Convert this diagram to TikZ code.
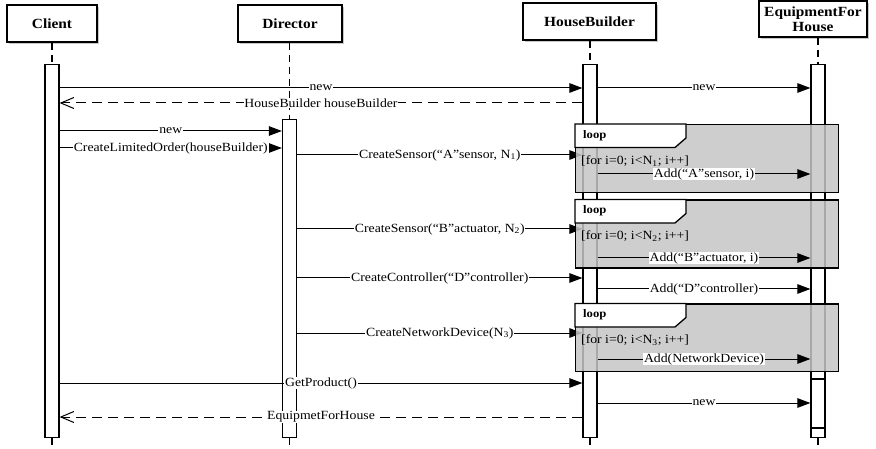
\documentclass[tikz,border=0pt]{standalone}
\usepackage{fontspec}
\setmainfont{Liberation Serif}[FakeStretch=1.1]
\usetikzlibrary{arrows.meta,shadows}

\definecolor{loopgray}{RGB}{198,198,198}

\tikzset{
  head/.style={draw, line width=1.4pt, fill=white, align=center, inner sep=0pt,
    font=\fontsize{14}{15}\selectfont\bfseries,
    drop shadow={shadow xshift=1.5pt, shadow yshift=-2.5pt, fill=black!22, opacity=1}},
  lifeline/.style={line width=1.2pt, dash pattern=on 7pt off 5pt},
  act/.style={draw, fill=white, line width=1.2pt, minimum width=14pt, inner sep=0pt, anchor=north},
  msg/.style={line width=1pt, -{Triangle[length=13pt,width=9.5pt]}},
  ret/.style={line width=1pt, dash pattern=on 10pt off 6pt, -{Straight Barb[length=13pt,width=11pt]}},
  lbl/.style={fill=white, inner sep=0.8pt, font=\fontsize{12.5}{13}\selectfont},
  loopframe/.style={draw, line width=1.3pt, fill=loopgray, fill opacity=0.85, draw opacity=1,
    inner sep=0pt, anchor=north west, minimum width=263pt, minimum height=68pt},
  looptab/.style={draw, line width=1.3pt, fill=white},
  looptitle/.style={anchor=west, inner sep=0pt, font=\fontsize{11.5}{12}\selectfont\bfseries},
  guard/.style={anchor=west, inner sep=0pt, font=\fontsize{12.5}{13}\selectfont},
}

\begin{document}
\begin{tikzpicture}[x=1pt, y=-1pt]
\useasboundingbox (0,0) rectangle (876,449);

% participants
\node[head, minimum width=90pt, minimum height=37pt] (hC) at (52,23.5) {Client};
\node[head, minimum width=104pt, minimum height=37pt] (hD) at (290,23.5) {Director};
\node[head, minimum width=133pt, minimum height=37pt] (hH) at (589.5,21.5) {HouseBuilder};
\node[head, minimum width=108pt, minimum height=36pt] (hE) at (813,19) {EquipmentFor\\House};

% activation bars
\node[act, minimum height=373pt] (aC) at (52,64) {};
\node[act, minimum height=318pt] (aD) at (289.5,119) {};
\node[act, minimum height=373pt] (aH) at (590,64) {};
\node[act, minimum height=373pt] (aE) at (818,64) {};

% lifelines
\draw[lifeline] (hC.south) -- (aC.north);
\draw[lifeline] (hD.south -| aD.north) -- (aD.north);
\draw[lifeline] (hH.south -| aH.north) -- (aH.north);
\draw[lifeline] (hE.south -| aE.north) -- (aE.north);
\foreach \a in {aC,aD,aH,aE} \draw[lifeline] (\a.south) -- ++(0,13);

% second activation of EquipmentForHouse
\coordinate (e1) at (0,379);
\coordinate (e2) at (0,428);
\draw[line width=1.2pt] (aE.west |- e1) -- (aE.east |- e1);
\draw[line width=1.2pt] (aE.west |- e2) -- (aE.east |- e2);

% message rows
\coordinate (m1) at (0,88);
\coordinate (m2) at (0,103);
\coordinate (m4) at (0,131);
\coordinate (m5) at (0,148);
\coordinate (m6) at (0,155);
\coordinate (m7) at (0,174);
\coordinate (m8) at (0,229);
\coordinate (m9) at (0,258);
\coordinate (m10) at (0,278);
\coordinate (m11) at (0,289);
\coordinate (m12) at (0,333);
\coordinate (m13) at (0,359);
\coordinate (m14) at (0,383);
\coordinate (m15) at (0,403);
\coordinate (m16) at (0,417);

\draw[msg] (aC.east |- m1) -- node[lbl] {new} (aH.west |- m1);
\draw[ret] (aH.west |- m2) -- node[lbl] {HouseBuilder houseBuilder} (aC.east |- m2);
\draw[msg] (aH.east |- m1) -- node[lbl] {new} (aE.west |- m1);
\draw[msg] (aC.east |- m4) -- node[lbl] {new} (aD.west |- m4);
\draw[msg] (aC.east |- m5) -- node[lbl] {CreateLimitedOrder(houseBuilder)} (aD.west |- m5);
\draw[msg] (aD.east |- m6) -- node[lbl] {CreateSensor(“A”sensor, N\textsubscript{1})} (aH.west |- m6);
\draw[msg] (aD.east |- m8) -- node[lbl] {CreateSensor(“B”actuator, N\textsubscript{2})} (aH.west |- m8);
\draw[msg] (aD.east |- m10) -- node[lbl] {CreateController(“D”controller)} (aH.west |- m10);
\draw[msg] (aH.east |- m11) -- node[lbl] {Add(“D”controller)} (aE.west |- m11);
\draw[msg] (aD.east |- m12) -- node[lbl] {CreateNetworkDevice(N\textsubscript{3})} (aH.west |- m12);
\draw[msg] (aC.east |- m14) -- node[lbl] {GetProduct()} (aH.west |- m14);
\draw[msg] (aH.east |- m15) -- node[lbl] {new} (aE.west |- m15);
\draw[ret] (aH.west |- m16) -- node[lbl] {EquipmetForHouse} (aC.east |- m16);

% loop fragments
\node[loopframe] (L1) at (575,124) {};
\node[loopframe] (L2) at (575,199.5) {};
\node[loopframe, minimum height=67.5pt] (L3) at (575,303.5) {};
\foreach \L/\n in {L1/1,L2/2,L3/3} {
  \draw[looptab] (\L.north west) -- ++(111,0) -- ++(0,14) -- ++(-11,9.5) -- ++(-100,0) -- cycle;
  \node[looptitle] (\L t) at ([xshift=8pt, yshift=-11.5pt]\L.north west) {loop};
  \node[guard] (\L g) at ([xshift=6pt, yshift=-37pt]\L.north west) {[for i=0; i<N\textsubscript{\n}; i++]};
}

\draw[msg] (aH.east |- m7) -- node[lbl] {Add(“A”sensor, i)} (aE.west |- m7);
\draw[msg] (aH.east |- m9) -- node[lbl] {Add(“B”actuator, i)} (aE.west |- m9);
\draw[msg] (aH.east |- m13) -- node[lbl] {Add(NetworkDevice)} (aE.west |- m13);
\end{tikzpicture}
\end{document}
